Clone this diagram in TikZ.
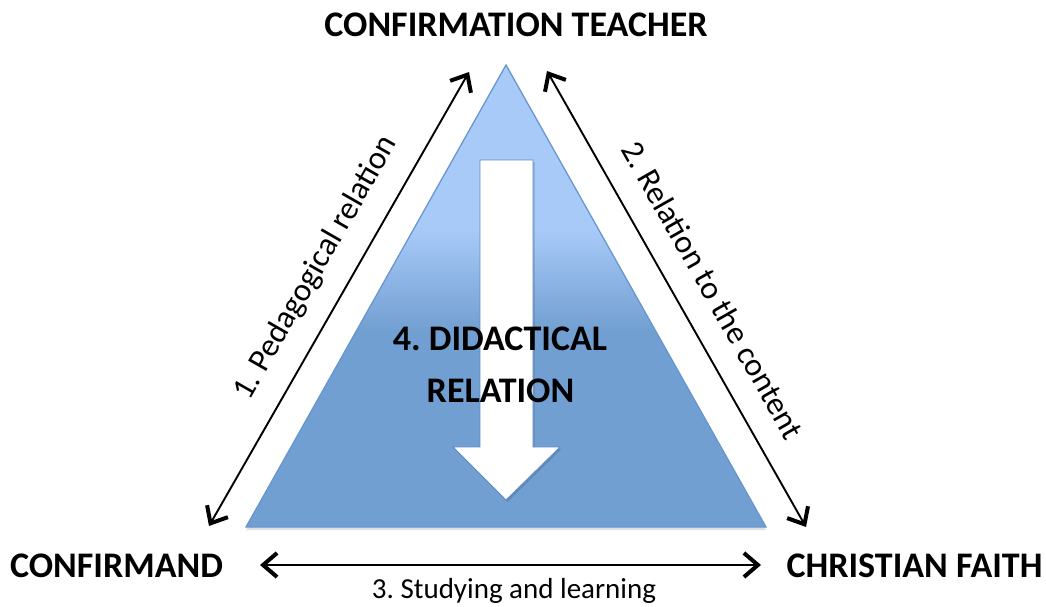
\documentclass[tikz,border=0pt]{standalone}
\usepackage{fontspec}
\setmainfont{Carlito}
\usetikzlibrary{arrows.meta,shadows}
\definecolor{triLight}{RGB}{168,202,248}
\definecolor{triDark}{RGB}{114,159,209}
\definecolor{triEdge}{RGB}{104,151,207}
\definecolor{arrEdge}{RGB}{96,140,196}
\begin{document}
\frenchspacing
\begin{tikzpicture}[x=1pt,y=-1pt,
  barb/.tip={Straight Barb[length=14pt,width=24pt,line width=4pt]},
  rel/.style={draw=black, line width=1.9pt, barb-barb},
  cornerlabel/.style={font=\fontsize{36}{42}\selectfont\bfseries, inner sep=0pt, anchor=base},
  edgelabel/.style={font=\fontsize{32.5}{38}\selectfont, inner sep=0pt},
  bigarrow/.style={fill=white, draw=arrEdge, line width=0.8pt,
    drop shadow={shadow xshift=1.5pt, shadow yshift=-2pt, opacity=0.35, fill=arrEdge!70!black}}]
\useasboundingbox (0,0) rectangle (1046,607);

% triangle
\coordinate (apex) at (506,65);
\coordinate (bl) at (246,527);
\coordinate (br) at (766,527);
\fill[black, opacity=0.12] ([yshift=-3pt]bl) -- ([yshift=-3pt]br) -- ([xshift=2pt,yshift=-3pt]apex) -- cycle;
\begin{scope}
  \clip (apex) -- (br) -- (bl) -- cycle;
  \fill[triLight] (0,0) rectangle (1046,230);
  \shade[top color=triLight, bottom color=triDark] (0,229) rectangle (1046,331);
  \fill[triDark] (0,330) rectangle (1046,607);
\end{scope}
\draw[triEdge, line width=1.3pt, line join=miter] (apex) -- (br) -- (bl) -- cycle;

% white arrow
\path[bigarrow] (480,160) -- (533,160) -- (533,447) -- (560,447) -- (506,500)
  -- (453,447) -- (480,447) -- cycle;

\node[cornerlabel] (did) at (500,350) {4. DIDACTICAL};
\node[cornerlabel] (did2) at (500.5,402) {RELATION};

% corner labels
\node[cornerlabel] (teacher) at (516,37) {CONFIRMATION TEACHER};
\node[cornerlabel] (confirmand) at (116.5,577) {CONFIRMAND};
\node[cornerlabel] (faith) at (914.5,577) {CHRISTIAN FAITH};

% arrow end points
\coordinate (l1) at (209,526);
\coordinate (l2) at (469,72);
\coordinate (r1) at (547,71);
\coordinate (r2) at (806,527);
\coordinate (b1) at (260,565);
\coordinate (b2) at (761,565);

\draw[rel] (l1) -- (l2);
\draw[rel] (r1) -- (r2);
\draw[rel] (b1) -- (b2);

% edge labels
\node[edgelabel, rotate=60.2] (ped) at (316,268) {1. Pedagogical relation};
\node[edgelabel, rotate=-60.4] (cont) at (713,290) {2. Relation to the content};
\node[edgelabel, font=\fontsize{29}{34}\selectfont, anchor=base] (stud) at (514,598) {3. Studying and learning};
\end{tikzpicture}
\end{document}
